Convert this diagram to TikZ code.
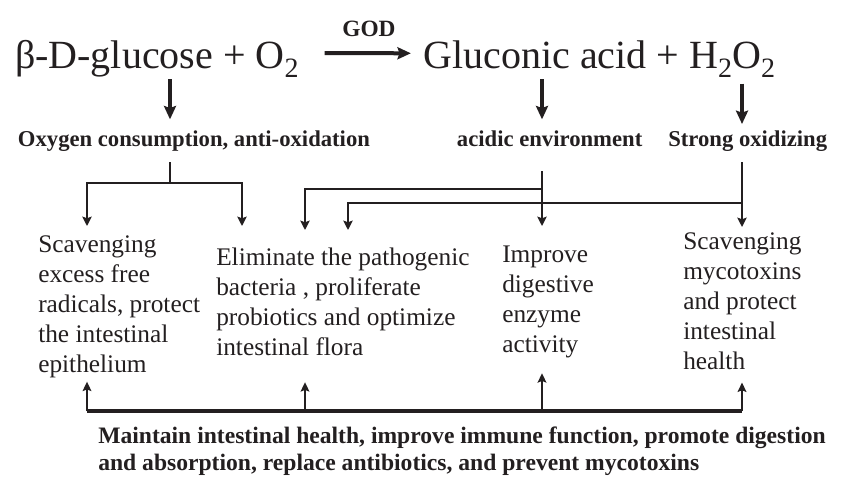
\documentclass[tikz,border=0pt]{standalone}
\usepackage{fontspec}
\setmainfont{Liberation Serif}
\usetikzlibrary{arrows.meta,positioning}
\definecolor{ink}{RGB}{35,31,32}
\newcommand\chemsub[1]{\raisebox{-6.75pt}{\fontsize{21}{21}\selectfont #1}}

\begin{document}
\begin{tikzpicture}[x=0.75pt,y=-0.75pt,color=ink,
  big/.style={line width=3pt,-{Stealth[length=10pt,width=9pt,inset=1.5pt]}},
  tip/.style={line width=2.2pt,-{Stealth[length=7pt,width=7pt,inset=1.2pt]}},
  up/.style={line width=1.8pt,-{Stealth[length=7pt,width=6.5pt,inset=1.2pt]}},
  bus/.style={line width=3pt},
  eq/.style={inner sep=0,outer sep=1.5pt,font=\fontsize{30}{36}\selectfont},
  lab/.style={inner sep=0,outer sep=8pt,text height=12pt,text depth=4pt,font=\fontsize{17}{20}\selectfont\bfseries},
  txt/.style={inner sep=0,align=left,font=\fontsize{19}{22.5}\selectfont}]
\useasboundingbox (0,0) rectangle (841,489);
\node[eq,anchor=base west] (glu) at (13,68) {β-D-glucose + O\chemsub{2}};
\node[eq,base right=90.75pt of glu] (gla) {Gluconic acid + H\chemsub{2}O\chemsub{2}};
\node[inner sep=0,anchor=base,font=\fontsize{17.5}{20}\selectfont\bfseries] (god) at (369,36) {GOD};
\node[lab,anchor=base west] (oxy) at (7.3,146) {Oxygen consumption, anti-oxidation};
\node[lab,anchor=base west] (acd) at (446.3,146) {acidic environment};
\node[lab,base right=3.5pt of acd] (str) {Strong oxidizing};
\node[txt,anchor=base west] (rad) at (38,372) {Scavenging\\excess free\\radicals, protect\\the intestinal\\epithelium};
\node[txt,anchor=base west] (elim) at (216,355) {Eliminate the pathogenic\\bacteria , proliferate\\probiotics and optimize\\intestinal flora};
\node[txt,anchor=base west] (enz) at (502,352) {Improve\\digestive\\enzyme\\activity};
\node[txt,anchor=base west] (myc) at (683,369) {Scavenging\\mycotoxins\\and protect\\intestinal\\health};
\node[inner sep=0,anchor=base west,align=left,font=\fontsize{17.7}{20.25}\selectfont\bfseries] (mnt) at (98,470) {Maintain intestinal health, improve immune function, promote digestion\\and absorption, replace antibiotics, and prevent mycotoxins};
\coordinate (j0) at (170,183);
\coordinate (j1) at (542,189);
\coordinate (j2) at (742,203);
\coordinate (t1) at (87,226);
\coordinate (t2) at (242,226);
\coordinate (t3) at (305,230);
\coordinate (t4) at (348,230);
\coordinate (t5) at (542,226);
\coordinate (t6) at (742,227);
\coordinate (u1) at (87,411);
\coordinate (u2) at (305,411);
\coordinate (u3) at (542,411);
\coordinate (u4) at (742,411);
\draw[big] ([xshift=18pt,yshift=4pt]glu.east) -- ([xshift=-8pt,yshift=4pt]gla.west);
\draw[big] (glu.south -| j0) -- (oxy.north -| j0);
\draw[big] (gla.south -| j1) -- (acd.north -| j1);
\draw[big,shorten <=3.5pt,shorten >=-3.5pt] (gla.south -| j2) -- (str.north -| j2);
\draw[line width=2.2pt] (oxy.south -| j0) -- (j0);
\draw[tip] (j0) -| (t1);
\draw[tip] (j0) -| (t2);
\draw[tip,shorten <=7pt] (acd.south -| j1) -- (t5);
\draw[tip] (j1) -| (t3);
\draw[tip] (str.south -| j2) -- (t6);
\draw[tip] (j2) -| (t4);
\draw[bus] (u1) -- (u4);
\draw[up,shorten >=3pt] (u1) -- (rad.south -| u1);
\draw[up,shorten >=20pt] (u2) -- (elim.south -| u2);
\draw[up,shorten >=11.6pt] (u3) -- (enz.south -| u3);
\draw[up,shorten >=9.75pt] (u4) -- (myc.south -| u4);
\end{tikzpicture}
\end{document}
